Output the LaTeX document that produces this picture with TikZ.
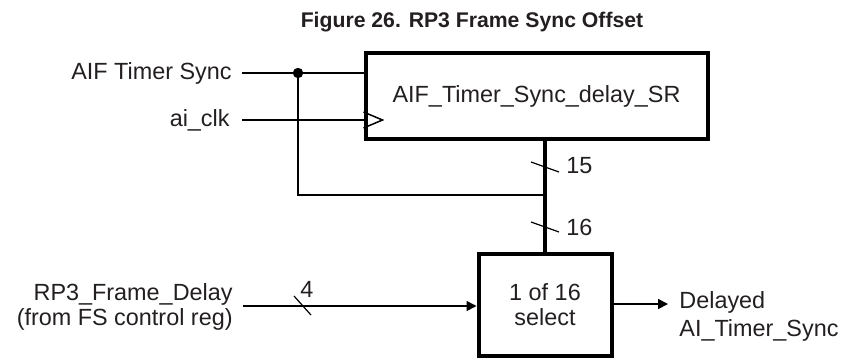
\documentclass[tikz,border=0pt]{standalone}
\usepackage{fontspec}
\setmainfont{Liberation Sans}
\usetikzlibrary{arrows.meta}
\definecolor{ink}{HTML}{231F20}
\begin{document}
\begin{tikzpicture}[x=0.5pt,y=-0.5pt, color=ink,
  lbl/.style={inner sep=0pt, text=ink, font=\fontsize{11.7pt}{12.5pt}\selectfont},
  blk/.style={draw=black, line width=2pt, inner sep=0pt, text=ink, font=\fontsize{11.7pt}{12.5pt}\selectfont, align=center},
  wire/.style={draw=black, line width=0.75pt},
  bus/.style={draw=black, line width=2.2pt},
  tick/.style={draw=black, line width=0.6pt},
  arr/.style={wire, -{Triangle[length=5pt,width=5pt]}}]
\useasboundingbox (0,0) rectangle (844,358);
% title
\node[lbl, font=\fontsize{10.6pt}{12pt}\selectfont\bfseries] (title) at (472,22) {Figure 26. RP3 Frame Sync Offset};
% blocks
\node[blk, minimum width=171pt, minimum height=42.5pt] (sr) at (536.5,96) {AIF\_Timer\_Sync\_delay\_SR};
\node[blk, minimum width=66.5pt, minimum height=51pt] (sel) at (545,304.5) {1 of 16\\select};
% input labels
\node[lbl, anchor=east] (ats) at (232,73) {AIF Timer Sync};
\node[lbl, anchor=east] (clk) at (230,120) {ai\_clk};
\node[lbl, anchor=east, align=right] (rp) at (233,307) {RP3\_Frame\_Delay\\(from FS control reg)};
\node[lbl, anchor=west, align=left, font=\fontsize{11.7pt}{14pt}\selectfont] (out) at (679,316) {Delayed\\AI\_Timer\_Sync};
% coordinates
\coordinate (atsin) at (242,73);
\coordinate (clkin) at (242,120);
\coordinate (dot) at (298,73);
\coordinate (rpin) at (243,306);
\coordinate (fb) at (545,195);
\coordinate (outend) at (668,304);
% AIF timer sync
\draw[wire] (atsin) -- (sr.west |- atsin);
\fill[black] (dot) circle (2.6pt);
\draw[wire] (dot) |- (fb);
% clock
\draw[wire] (clkin) -- (sr.west |- clkin);
\draw[wire] ([yshift=4pt]sr.west |- clkin) -- ++(19,8) -- ++(-19,8);
% bus
\draw[bus] (sel.north |- sr.south) -- (sel.north);
\draw[tick] (531,162) -- (559,172);
\node[lbl, anchor=west] (n15) at (566,166) {15};
\draw[tick] (531,222) -- (559,232);
\node[lbl, anchor=west] (n16) at (566,227) {16};
% RP3 frame delay
\draw[arr] (rpin) -- (sel.west |- rpin);
\draw[tick] (294,296) -- (311,315);
\node[lbl] (n4) at (307,289) {4};
% output
\draw[arr] (sel.east |- outend) -- (outend);
\end{tikzpicture}
\end{document}
